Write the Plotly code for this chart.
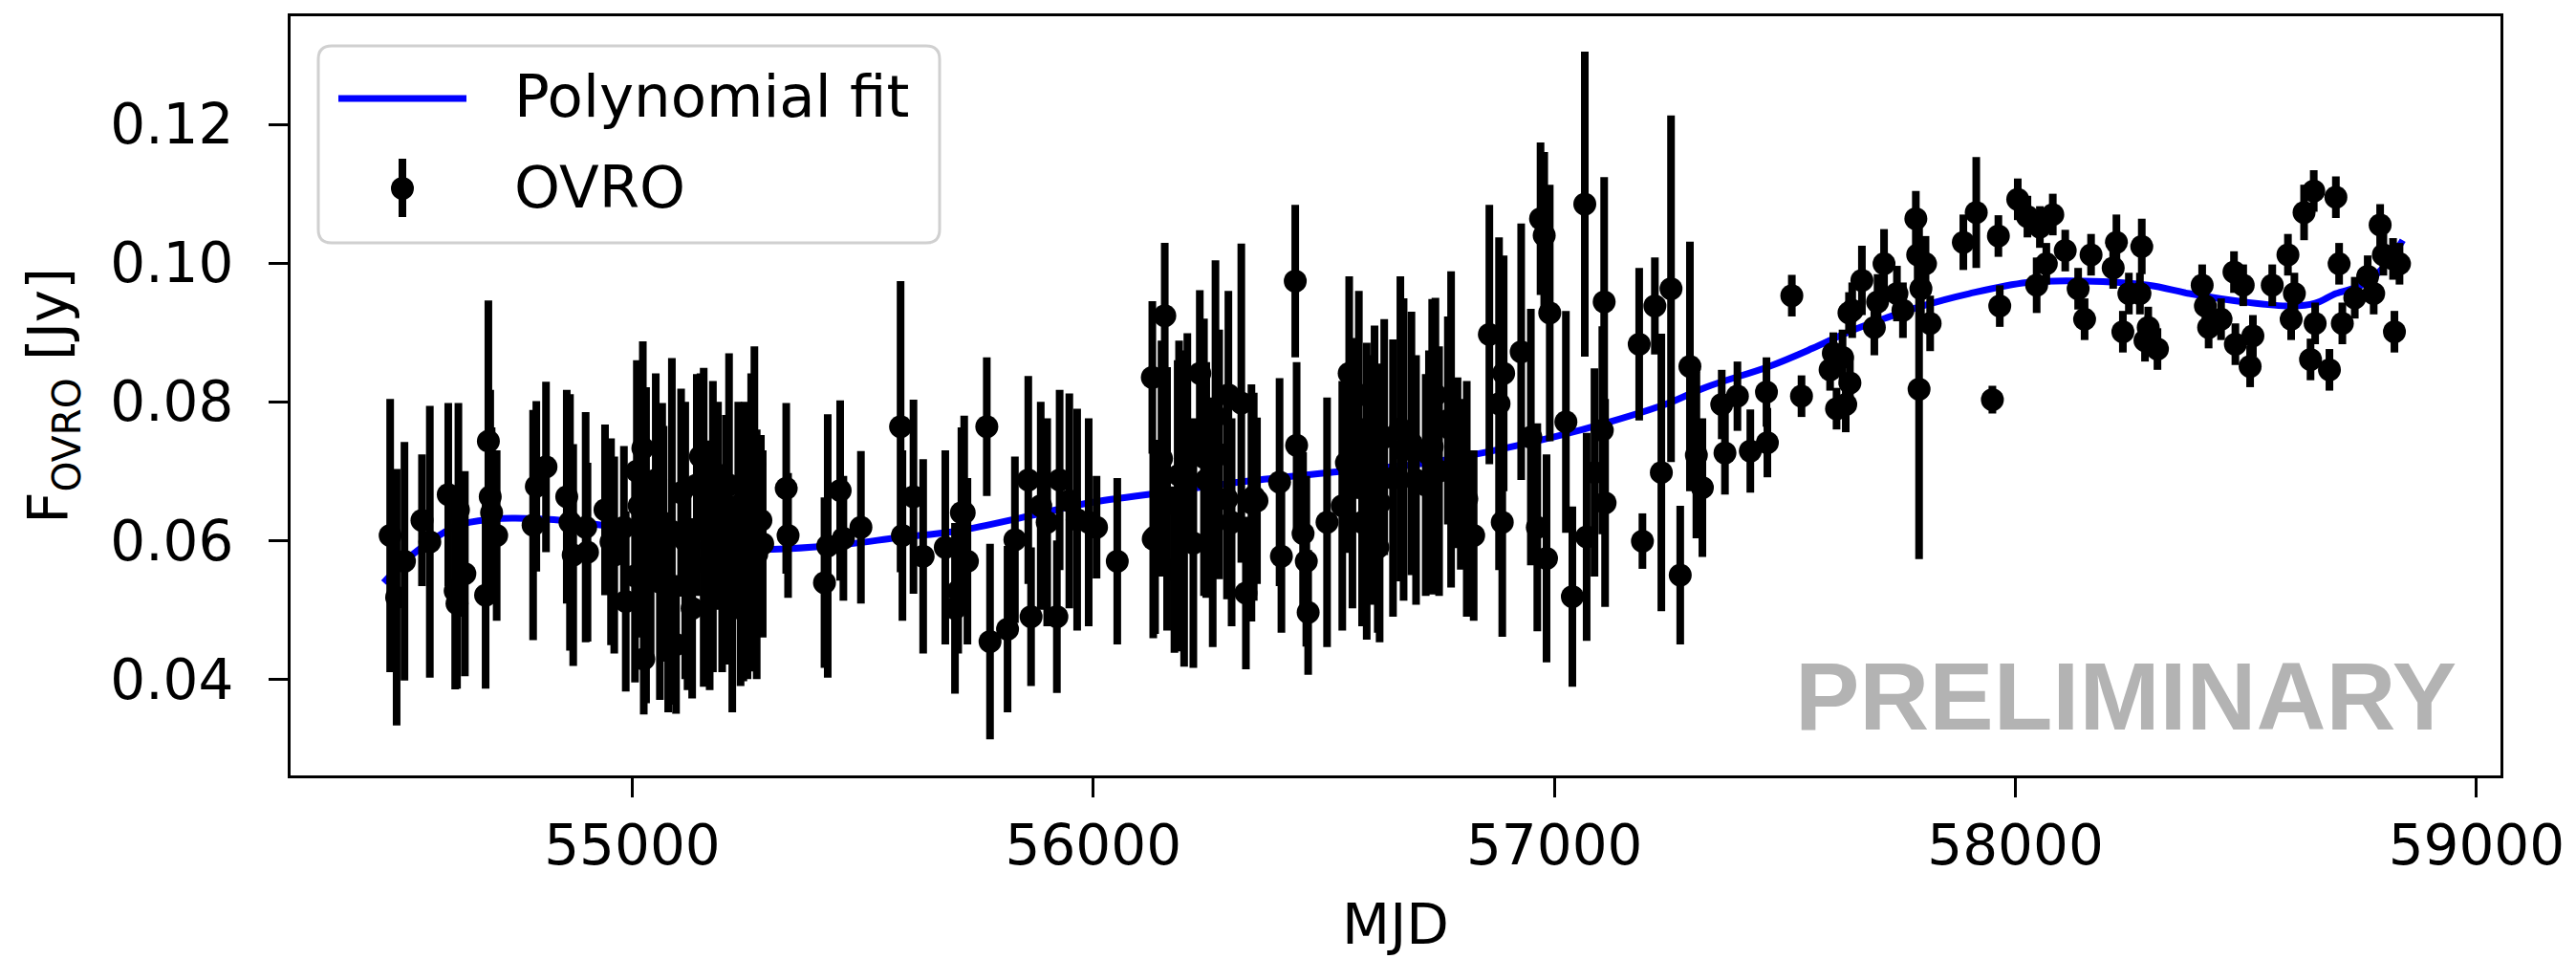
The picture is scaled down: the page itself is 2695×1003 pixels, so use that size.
import plotly.graph_objects as go

# ---- data ----
mjd = [54475, 54489, 54506, 54544, 54561, 54601, 54616, 54620, 54623, 54637,
       54682, 54688, 54692, 54695, 54706, 54785, 54792, 54813, 54858, 54865,
       54872, 54899, 54903, 54941, 54954, 54961, 54982, 54986, 55006, 55010,
       55023, 55025, 55030, 55040, 55051, 55065, 55068, 55078, 55086, 55095,
       55106, 55120, 55130, 55140, 55148, 55155, 55168, 55186, 55195, 55203,
       55217, 55230, 55241, 55244, 55250, 55258, 55265, 55279, 55283, 55334,
       55338, 55417, 55424, 55451, 55458, 55496, 55582, 55586, 55610, 55631,
       55679, 55700, 55707, 55714, 55720, 55727, 55769, 55776, 55814, 55830,
       55859, 55865, 55886, 55900, 55921, 55927, 55948, 55965, 55990, 56007,
       56052, 56128, 56130, 56134, 56148, 56155, 56176, 56183, 56186, 56197,
       56204, 56217, 56231, 56245, 56259, 56265, 56273, 56290, 56293, 56300,
       56321, 56331, 56343, 56348, 56355, 56404, 56408, 56438, 56441, 56455,
       56462, 56466, 56507, 56549, 56555, 56562, 56576, 56583, 56593, 56604,
       56617, 56621, 56631, 56666, 56673, 56700, 56721, 56728, 56735, 56742,
       56769, 56776, 56790, 56797, 56825, 56859, 56880, 56887, 56890, 56928,
       56949, 56963, 56970, 56978, 56983, 56990, 57025, 57039, 57066, 57070,
       57087, 57104, 57108, 57110, 57184, 57191, 57218, 57232, 57253, 57273,
       57294, 57308, 57321, 57363, 57370, 57397, 57425, 57460, 57462, 57515,
       57536, 57598, 57605, 57612, 57625, 57632, 57639, 57641, 57646, 57667,
       57694, 57701, 57715, 57743, 57756, 57784, 57788, 57791, 57795, 57805,
       57815, 57887, 57915, 57950, 57963, 57966, 58005, 58026, 58046, 58053,
       58067, 58081, 58108, 58136, 58150, 58164, 58212, 58219, 58233, 58246,
       58270, 58274, 58281, 58288, 58308, 58405, 58412, 58419, 58446, 58474,
       58477, 58494, 58509, 58515, 58557, 58591, 58598, 58605, 58626, 58640,
       58647, 58650, 58681, 58695, 58702, 58709, 58736, 58764, 58777, 58791,
       58798, 58819, 58822, 58833,
       55015, 55060, 55115, 55175, 55210, 55235, 55270, 56160, 56240, 56540,
       56610, 56650, 56690, 56750, 56810]

flux = [0.0607, 0.0518, 0.0570, 0.0629, 0.0598, 0.0666, 0.0527, 0.0509, 0.0644, 0.0552,
        0.0521, 0.0743, 0.0663, 0.0640, 0.0607, 0.0622, 0.0678, 0.0706, 0.0663, 0.0626,
        0.0579, 0.0619, 0.0583, 0.0644, 0.0598, 0.0579, 0.0619, 0.0512, 0.0549, 0.0700,
        0.0733, 0.0429, 0.0593, 0.0560, 0.0687, 0.0626, 0.0595, 0.0472, 0.0613, 0.0450,
        0.0669, 0.0534, 0.0502, 0.0680, 0.0721, 0.0619, 0.0564, 0.0650, 0.0560, 0.0601,
        0.0502, 0.0650, 0.0577, 0.0601, 0.0530, 0.0626, 0.0710, 0.0629, 0.0595, 0.0675,
        0.0607, 0.0539, 0.0592, 0.0672, 0.0603, 0.0619, 0.0764, 0.0607, 0.0663, 0.0577,
        0.0590, 0.0502, 0.0527, 0.0640, 0.0640, 0.0570, 0.0764, 0.0454, 0.0472, 0.0601,
        0.0687, 0.0490, 0.0650, 0.0626, 0.0490, 0.0687, 0.0657, 0.0630, 0.0626, 0.0619,
        0.0570, 0.0835, 0.0602, 0.0605, 0.0718, 0.0924, 0.0558, 0.0650, 0.0694, 0.0646,
        0.0749, 0.0596, 0.0841, 0.0687, 0.0626, 0.0779, 0.0724, 0.0660, 0.0810, 0.0626,
        0.0798, 0.0524, 0.0654, 0.0663, 0.0657, 0.0684, 0.0577, 0.0974, 0.0737, 0.0610,
        0.0570, 0.0496, 0.0626, 0.0712, 0.0841, 0.0697, 0.0810, 0.0626, 0.0671, 0.0687,
        0.0590, 0.0654, 0.0749, 0.0761, 0.0731, 0.0687, 0.0680, 0.0724, 0.0735, 0.0810,
        0.0773, 0.0760, 0.0712, 0.0681, 0.0607, 0.0897, 0.0797, 0.0626, 0.0841, 0.0872,
        0.0749, 0.0619, 0.1064, 0.1040, 0.0574, 0.0928, 0.0771, 0.0519, 0.1085, 0.0605,
        0.0698, 0.0759, 0.0944, 0.0654, 0.0883, 0.0599, 0.0938, 0.0698, 0.0963, 0.0550,
        0.0851, 0.0723, 0.0676, 0.0796, 0.0726, 0.0808, 0.0729, 0.0814, 0.0741, 0.0953,
        0.0808, 0.0846, 0.0870, 0.0790, 0.0864, 0.0796, 0.0928, 0.0827, 0.0932, 0.0975,
        0.0907, 0.0944, 0.0999, 0.0956, 0.0932, 0.1064, 0.1012, 0.0818, 0.0963, 0.0999,
        0.0913, 0.1030, 0.1073, 0.0803, 0.1039, 0.0938, 0.1092, 0.1067, 0.0968, 0.1052,
        0.0999, 0.1070, 0.1018, 0.0963, 0.0919, 0.1012, 0.0993, 0.1030, 0.0901, 0.0956,
        0.0956, 0.1024, 0.0888, 0.0907, 0.0876, 0.0968, 0.0938, 0.0907, 0.0919, 0.0987,
        0.0883, 0.0968, 0.0851, 0.0895, 0.0968, 0.1012, 0.0919, 0.0956, 0.1073, 0.0861,
        0.1104, 0.0913, 0.0846, 0.1095, 0.0999, 0.0913, 0.0950, 0.0981, 0.0956, 0.1055,
        0.1012, 0.1006, 0.0901, 0.0999,
        0.0650, 0.0540, 0.0600, 0.0620, 0.0680, 0.0560, 0.0580, 0.0660, 0.0720, 0.0650,
        0.0720, 0.0690, 0.0740, 0.0700, 0.0660]

err = [0.0197, 0.0185, 0.0172, 0.0095, 0.0196, 0.0132, 0.0142, 0.0123, 0.0154, 0.0148,
       0.0135, 0.0203, 0.0154, 0.0123, 0.0123, 0.0166, 0.0123, 0.0123, 0.0154, 0.0185,
       0.0160, 0.0166, 0.0129, 0.0123, 0.0149, 0.0142, 0.0117, 0.0130, 0.0154, 0.0160,
       0.0154, 0.0080, 0.0228, 0.0130, 0.0154, 0.0172, 0.0170, 0.0120, 0.0250, 0.0100,
       0.0150, 0.0150, 0.0130, 0.0160, 0.0120, 0.0230, 0.0180, 0.0150, 0.0150, 0.0180,
       0.0150, 0.0150, 0.0180, 0.0199, 0.0130, 0.0215, 0.0170, 0.0123, 0.0135, 0.0123,
       0.0090, 0.0123, 0.0190, 0.0130, 0.0090, 0.0110, 0.0210, 0.0123, 0.0140, 0.0140,
       0.0140, 0.0123, 0.0090, 0.0123, 0.0140, 0.0120, 0.0100, 0.0141, 0.0120, 0.0120,
       0.0150, 0.0100, 0.0150, 0.0150, 0.0110, 0.0130, 0.0155, 0.0160, 0.0150, 0.0074,
       0.0120, 0.0110, 0.0143, 0.0140, 0.0170, 0.0105, 0.0120, 0.0210, 0.0194, 0.0228,
       0.0150, 0.0180, 0.0120, 0.0170, 0.0180, 0.0225, 0.0180, 0.0145, 0.0150, 0.0150,
       0.0230, 0.0110, 0.0171, 0.0150, 0.0120, 0.0150, 0.0110, 0.0110, 0.0120, 0.0117,
       0.0123, 0.0090, 0.0180, 0.0130, 0.0140, 0.0195, 0.0150, 0.0150, 0.0214, 0.0180,
       0.0123, 0.0201, 0.0170, 0.0220, 0.0218, 0.0180, 0.0160, 0.0150, 0.0213, 0.0140,
       0.0150, 0.0228, 0.0123, 0.0123, 0.0123, 0.0187, 0.0240, 0.0165, 0.0170, 0.0185,
       0.0185, 0.0150, 0.0110, 0.0120, 0.0150, 0.0185, 0.0160, 0.0130, 0.0220, 0.0150,
       0.0150, 0.0150, 0.0180, 0.0150, 0.0110, 0.0040, 0.0070, 0.0200, 0.0250, 0.0100,
       0.0180, 0.0120, 0.0100, 0.0050, 0.0060, 0.0050, 0.0060, 0.0050, 0.0050, 0.0030,
       0.0030, 0.0030, 0.0030, 0.0030, 0.0040, 0.0040, 0.0030, 0.0040, 0.0040, 0.0050,
       0.0040, 0.0040, 0.0050, 0.0040, 0.0040, 0.0040, 0.0040, 0.0245, 0.0040, 0.0040,
       0.0040, 0.0040, 0.0080, 0.0020, 0.0030, 0.0030, 0.0030, 0.0030, 0.0040, 0.0030,
       0.0030, 0.0030, 0.0030, 0.0030, 0.0030, 0.0030, 0.0030, 0.0040, 0.0030, 0.0030,
       0.0030, 0.0040, 0.0030, 0.0030, 0.0030, 0.0030, 0.0030, 0.0030, 0.0030, 0.0030,
       0.0030, 0.0030, 0.0030, 0.0030, 0.0030, 0.0030, 0.0030, 0.0030, 0.0040, 0.0030,
       0.0030, 0.0030, 0.0030, 0.0030, 0.0030, 0.0030, 0.0030, 0.0030, 0.0030, 0.0030,
       0.0030, 0.0030, 0.0030, 0.0030,
       0.0190, 0.0170, 0.0200, 0.0210, 0.0190, 0.0170, 0.0180, 0.0190, 0.0200, 0.0180,
       0.0190, 0.0200, 0.0190, 0.0180, 0.0170]

# polynomial-fit curve
fit_mjd = [54461, 54500, 54554, 54623, 54700, 54747, 54830, 54934, 55023, 55099,
           55230, 55334, 55472, 55576, 55700, 55859, 55990, 56162, 56342, 56528,
           56714, 56850, 57004, 57121, 57240, 57329, 57466, 57560, 57639, 57720,
           57797, 57900, 58025, 58150, 58288, 58377, 58495, 58598, 58650, 58695,
           58750, 58800, 58840]
fit_flux = [0.0539, 0.0566, 0.0595, 0.0622, 0.0631, 0.0632, 0.0630, 0.0622, 0.0610, 0.0598,
            0.0588, 0.0588, 0.0595, 0.0604, 0.0613, 0.0635, 0.0654, 0.0670, 0.0686, 0.0699,
            0.0711, 0.0727, 0.0750, 0.0771, 0.0796, 0.0821, 0.0851, 0.0877, 0.0901, 0.0921,
            0.0938, 0.0956, 0.0972, 0.0974, 0.0968, 0.0956, 0.0944, 0.0938, 0.0942, 0.0956,
            0.0968, 0.0995, 0.1033]

x_ticks = [55000, 56000, 57000, 58000, 59000]
y_ticks = [0.04, 0.06, 0.08, 0.10, 0.12]
legend_labels = ["Polynomial fit", "OVRO"]

FONT = "DejaVu Sans"
FS = 58
W, H = 2695, 1003
ML, MR, MT, MB = 304, 79, 17, 192
PW, PH = W - ML - MR, H - MT - MB


def px(xp):
    return (xp - ML) / PW


def py(yp):
    return (H - MB - yp) / PH


fig = go.Figure()
fig.add_trace(go.Scatter(
    x=fit_mjd, y=fit_flux, mode="lines", name=legend_labels[0], showlegend=False,
    line=dict(color="#0000ff", width=7, shape="spline"),
))
fig.add_trace(go.Scatter(
    x=mjd, y=flux, mode="markers", name=legend_labels[1], showlegend=False,
    marker=dict(color="black", size=24),
    error_y=dict(type="data", array=err, color="black", thickness=8, width=0),
))

# ---- hand-drawn legend box (matplotlib style) ----
bx0, bx1, by0, by1, r = 333, 983, 48, 254, 14
path = (f"M {px(bx0 + r)},{py(by0)} L {px(bx1 - r)},{py(by0)} "
        f"Q {px(bx1)},{py(by0)} {px(bx1)},{py(by0 + r)} L {px(bx1)},{py(by1 - r)} "
        f"Q {px(bx1)},{py(by1)} {px(bx1 - r)},{py(by1)} L {px(bx0 + r)},{py(by1)} "
        f"Q {px(bx0)},{py(by1)} {px(bx0)},{py(by1 - r)} L {px(bx0)},{py(by0 + r)} "
        f"Q {px(bx0)},{py(by0)} {px(bx0 + r)},{py(by0)} Z")
shapes = [
    dict(type="path", xref="paper", yref="paper", path=path,
         fillcolor="white", line=dict(color="#d0d0d0", width=3), layer="above"),
    dict(type="line", xref="paper", yref="paper", x0=px(354), x1=px(488),
         y0=py(103), y1=py(103), line=dict(color="#0000ff", width=7), layer="above"),
    dict(type="line", xref="paper", yref="paper", x0=px(421), x1=px(421),
         y0=py(166), y1=py(227), line=dict(color="black", width=8), layer="above"),
    dict(type="circle", xref="paper", yref="paper", xsizemode="pixel", ysizemode="pixel",
         xanchor=px(421), yanchor=py(197), x0=-12, x1=12, y0=-12, y1=12,
         fillcolor="black", line=dict(color="black", width=0), layer="above"),
]

annotations = [
    dict(text=legend_labels[0], xref="paper", yref="paper", x=px(536), y=py(101),
         xanchor="left", yanchor="middle", showarrow=False,
         font=dict(family=FONT, size=61, color="black")),
    dict(text=legend_labels[1], xref="paper", yref="paper", x=px(536), y=py(196),
         xanchor="left", yanchor="middle", showarrow=False,
         font=dict(family=FONT, size=61, color="black")),
    dict(text="<b>PRELIMINARY</b>", xref="paper", yref="paper",
         x=0.981, y=0.032, xanchor="right", yanchor="bottom", showarrow=False,
         font=dict(family="Liberation Sans", size=101, color="#b3b3b3")),
]

fig.update_layout(
    width=W, height=H,
    margin=dict(l=ML, r=MR, t=MT, b=MB, pad=0),
    paper_bgcolor="white", plot_bgcolor="white",
    font=dict(family=FONT, size=FS, color="black"),
    showlegend=False,
    shapes=shapes,
    annotations=annotations,
)
fig.update_xaxes(
    range=[54259, 59052], showgrid=False, zeroline=False,
    showline=True, linecolor="black", linewidth=3, mirror=True,
    ticks="outside", ticklen=20, tickwidth=3, tickcolor="black",
    tickvals=x_ticks, ticktext=[str(v) for v in x_ticks],
    tickfont=dict(family=FONT, size=FS),
    title=dict(text="MJD", font=dict(family=FONT, size=FS), standoff=30),
    automargin=False,
)
fig.update_yaxes(
    range=[0.0261, 0.1356], showgrid=False, zeroline=False,
    showline=True, linecolor="black", linewidth=3, mirror=True,
    ticks="outside", ticklen=20, tickwidth=3, tickcolor="black",
    tickvals=y_ticks, ticktext=[f"{v:.2f}" for v in y_ticks],
    tickfont=dict(family=FONT, size=FS), ticklabelstandoff=25,
    title=dict(text="F<sub>OVRO</sub> [Jy]", font=dict(family=FONT, size=FS), standoff=25),
    automargin=False,
)

fig.write_html("out.html")
